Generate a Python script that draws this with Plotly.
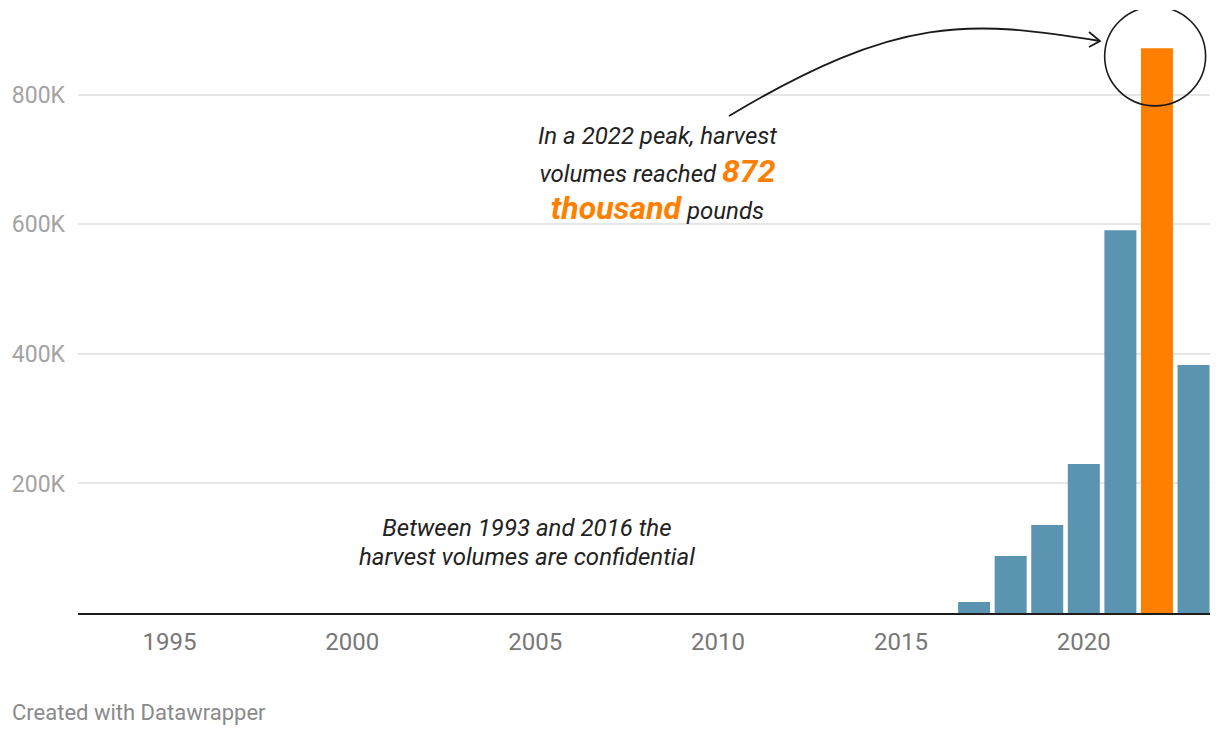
import plotly.graph_objects as go

# ---- data ----
years = [2017, 2018, 2019, 2020, 2021, 2022, 2023]
harvest_lbs = [17000, 88000, 136000, 230000, 591000, 872000, 383000]
highlight_year = 2022
y_tick_vals = [200000, 400000, 600000, 800000]
y_tick_text = ["200K", "400K", "600K", "800K"]
x_tick_vals = [1995, 2000, 2005, 2010, 2015, 2020]
x_tick_text = ["1995", "2000", "2005", "2010", "2015", "2020"]

BLUE = "#5b94b1"
ORANGE = "#ff7f00"
colors = [ORANGE if y == highlight_year else BLUE for y in years]

OFF = 8  # page body margin
W, H = 1220 - OFF, 736 - OFF
ML, MR, MT, MB = 78 - OFF, 10, 10 - OFF, 123
PW, PH = W - ML - MR, H - MT - MB


def px(x):
    return (x - OFF - ML) / PW


def py(y):
    return (H + OFF - MB - y) / PH


fig = go.Figure()
fig.add_trace(go.Bar(x=years, y=harvest_lbs, marker=dict(color=colors, line=dict(width=0)),
                     hoverinfo="skip"))

FONT = "Roboto, 'Noto Sans', sans-serif"

fig.update_layout(
    width=W, height=H,
    margin=dict(l=ML, r=MR, t=MT, b=MB, pad=0),
    paper_bgcolor="white", plot_bgcolor="white",
    bargap=0.125, showlegend=False,
    font=dict(family=FONT),
    xaxis=dict(range=[1992.5, 2023.45], tickvals=x_tick_vals, ticktext=x_tick_text,
               showgrid=False, zeroline=False, showline=True, linecolor="#1d1d1d", linewidth=2,
               ticks="", tickfont=dict(family=FONT, size=24, color="#777777"), ticklabelstandoff=6),
    yaxis=dict(range=[0, 931000], tickvals=y_tick_vals, ticktext=y_tick_text,
               showgrid=True, gridcolor="#e6e6e6", gridwidth=1.5, zeroline=False, showline=False,
               ticks="", tickfont=dict(family=FONT, size=23, color="#a3a3a3"), ticklabelstandoff=12),
)

# circle around peak bar (data coordinates, clipped by plot area)
fig.add_shape(type="circle", xref="x", yref="y", x0=2020.57, x1=2023.33, y0=783000, y1=936000,
              line=dict(color="#1a1a1a", width=1.6))

# curved arrow
p0, p1, p2, p3 = (729, 116), (899, 14), (970, 20), (1100, 41)
path = "M {} {} C {} {}, {} {}, {} {}".format(px(p0[0]), py(p0[1]), px(p1[0]), py(p1[1]),
                                            px(p2[0]), py(p2[1]), px(p3[0]), py(p3[1]))
fig.add_shape(type="path", xref="paper", yref="paper", path=path,
              line=dict(color="#1a1a1a", width=1.8))
head = "M {} {} L {} {} L {} {}".format(px(1089), py(32), px(1100), py(41), px(1089), py(47))
fig.add_shape(type="path", xref="paper", yref="paper", path=head,
              line=dict(color="#1a1a1a", width=1.8))

# annotations
txt1 = ("<i><span style='font-size:24px'>In a 2022 peak, harvest</span><br>"
        "<span style='font-size:24px'>volumes reached </span>"
        "<b><span style='color:%s;font-size:32px'>872</span></b><br>"
        "<b><span style='color:%s;font-size:32px'>thousand</span></b>"
        "<span style='font-size:24px'> pounds</span></i>") % (ORANGE, ORANGE)
fig.add_annotation(xref="paper", yref="paper", x=px(657), y=py(175), text=txt1, showarrow=False,
                   xanchor="center", yanchor="middle", align="center",
                   font=dict(family=FONT, size=29, color="#222222"))

txt2 = ("<i><span style='font-size:24px'>Between 1993 and 2016 the</span><br>"
        "<span style='font-size:24px'>harvest volumes are confidential</span></i>")
fig.add_annotation(xref="paper", yref="paper", x=px(527), y=py(542), text=txt2, showarrow=False,
                   xanchor="center", yanchor="middle", align="center",
                   font=dict(family=FONT, size=22, color="#222222"))

fig.add_annotation(xref="paper", yref="paper", x=px(10), y=py(712), text="Created with Datawrapper",
                   showarrow=False, xanchor="left", yanchor="middle",
                   font=dict(family=FONT, size=22, color="#8a8a8a"))

fig.write_html("out.html")
